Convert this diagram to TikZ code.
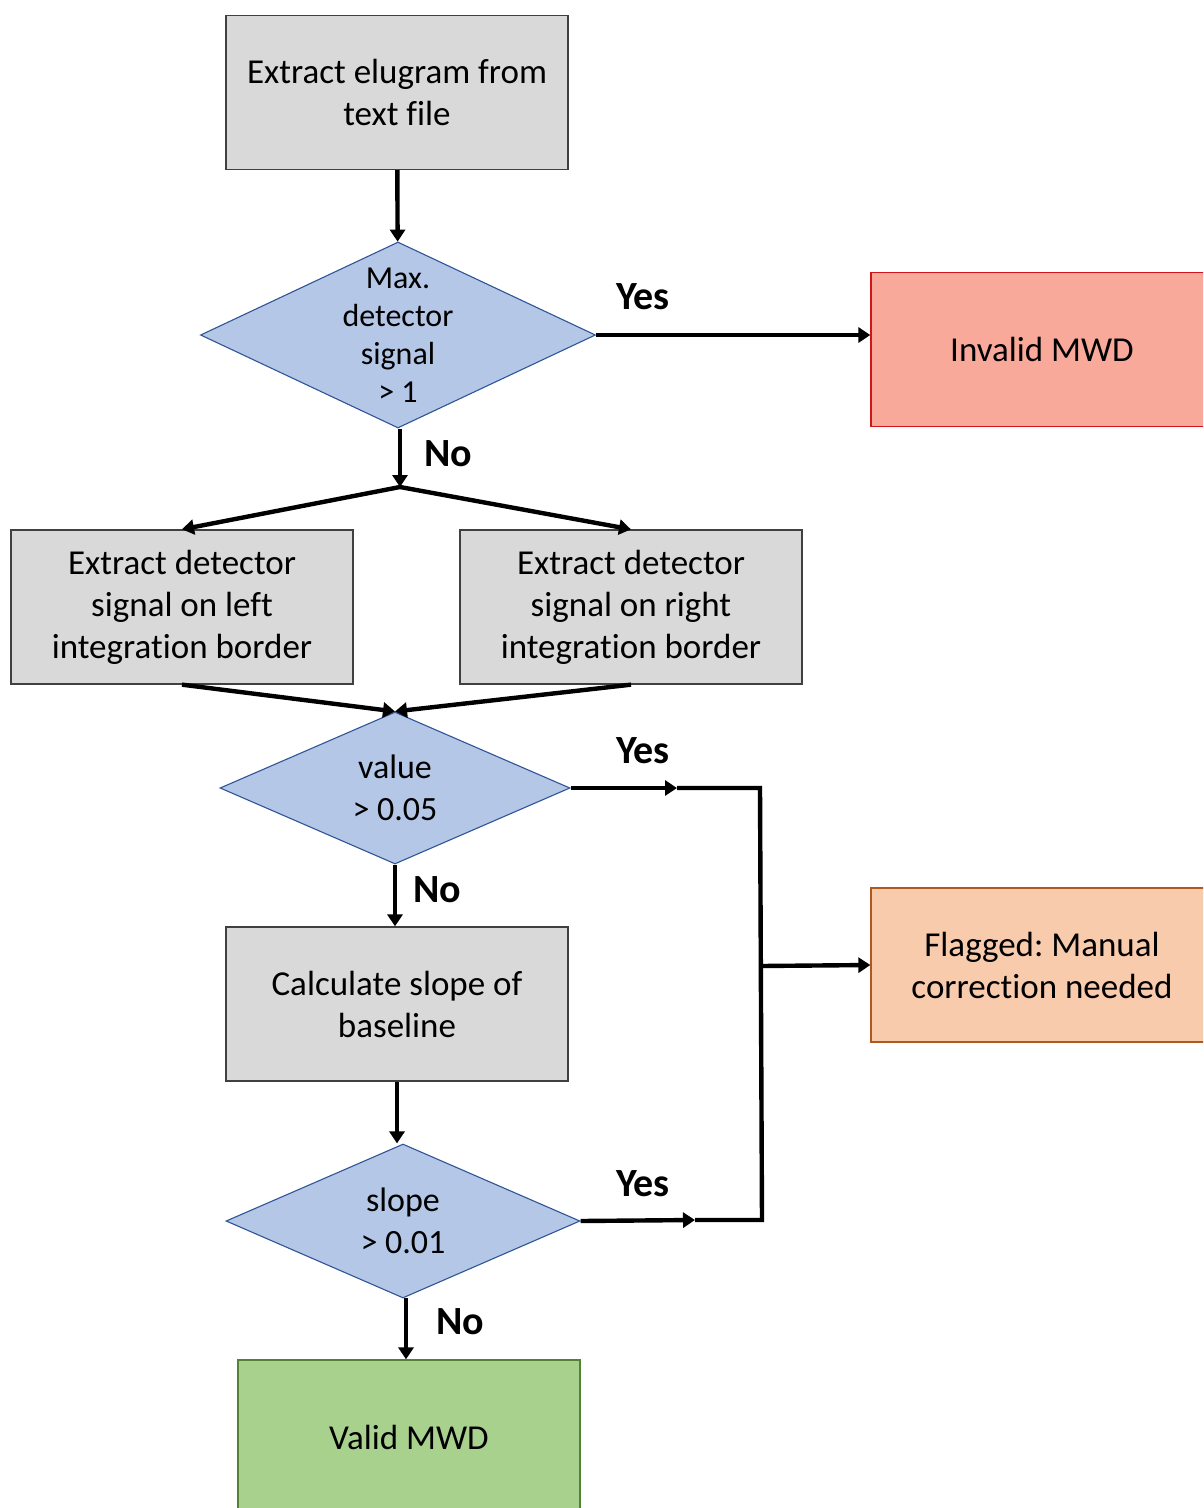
\documentclass[tikz,border=0pt]{standalone}
\usepackage{fontspec}
\setmainfont{Carlito}[Ligatures=NoCommon]
\usetikzlibrary{shapes.geometric,arrows.meta}
\frenchspacing
\definecolor{procfill}{HTML}{D9D9D9}
\definecolor{procline}{HTML}{404040}
\definecolor{decfill}{HTML}{B4C7E7}
\definecolor{decline}{HTML}{2F5597}
\definecolor{badfill}{HTML}{F8A99A}
\definecolor{badline}{HTML}{D0161B}
\definecolor{flagfill}{HTML}{F8CBAD}
\definecolor{flagline}{HTML}{B0591F}
\definecolor{okfill}{HTML}{A9D18E}
\definecolor{okline}{HTML}{538135}
\tikzset{
  process/.style={rectangle, draw=procline, fill=procfill, line width=1.3pt,
    minimum width=342pt, minimum height=154pt, inner sep=0pt, align=center,
    font=\fontsize{35}{42}\selectfont},
  outcome/.style={process},
  decision/.style={diamond, draw=decline, fill=decfill, line width=1.1pt,
    inner sep=0pt, aspect=2},
  dtext/.style={align=center, inner sep=0pt},
  arr/.style={line width=4.4pt, -{Triangle[width=15pt,length=12pt]}},
  bus/.style={line width=4.4pt},
  answer/.style={font=\fontsize{40}{46}\selectfont\bfseries, inner sep=0pt}
}
\begin{document}
\begin{tikzpicture}[x=1pt, y=-1pt]
  \useasboundingbox (0,0) rectangle (1203,1508);
  \fill[white] (0,0) rectangle (1203,1508);
  \clip (0,0) rectangle (1203,1508);

  % process boxes
  \node[process] (extract) at (397,92.5) {Extract elugram from\\text file};
  \node[process] (left) at (182,607) {Extract detector\\signal on left\\integration border};
  \node[process] (right) at (631,607) {Extract detector\\signal on right\\integration border};
  \node[process] (slope) at (397,1004) {Calculate slope of\\baseline};

  % outcomes (running past the page edge)
  \node[outcome, fill=badfill, draw=badline] (invalid) at (1042,349.5) {Invalid MWD};
  \node[outcome, fill=flagfill, draw=flagline] (flag) at (1042,965) {Flagged: Manual\\correction needed};
  \node[outcome, fill=okfill, draw=okline] (valid) at (409,1437) {Valid MWD};

  % decisions
  \node[decision, minimum width=395pt, minimum height=186pt] (d1) at (398,335) {};
  \node[dtext, font=\fontsize{32}{38}\selectfont] (d1t) at (d1) {Max.\\detector\\signal\\> 1};
  \node[decision, minimum width=350pt, minimum height=152pt] (d2) at (395,788) {};
  \node[dtext, font=\fontsize{34}{42}\selectfont] (d2t) at (d2) {value\\> 0.05};
  \node[decision, minimum width=354pt, minimum height=154pt] (d3) at (403,1221) {};
  \node[dtext, font=\fontsize{34}{42}\selectfont] (d3t) at (d3) {slope\\> 0.01};

  % junction points
  \coordinate (split) at (400,487);
  \coordinate (y1) at (677,788);
  \coordinate (y2) at (695,1220);
  \coordinate (b1) at (760,788);
  \coordinate (b2) at (762,1220);
  \coordinate (b3) at (761,966);
  \coordinate (nodown) at (406,1298);

  % connectors
  \draw[arr] (extract) -- (d1);
  \draw[arr] (d1.east) -- (d1.east -| invalid.west);
  \draw[arr] (d1.south -| split) -- (split);
  \draw[arr] (split) -- (left.north);
  \draw[arr] (split) -- (right.north);
  \draw[arr] (left.south) -- (d2.north);
  \draw[arr] (right.south) -- (d2.north);
  \draw[arr] (d2.east) -- (y1);
  \draw[bus, line join=miter] (y1) -- (b1) -- (b2) -- (y2);
  \draw[arr] (d3.east) -- (y2);
  \draw[arr] (b3) -- (flag.west);
  \draw[arr] (d2.south) -- (d2.south |- slope.north);
  \draw[arr] (slope.south) -- (slope.south |- d3.north);
  \draw[arr] (nodown) -- (nodown |- valid.north);

  % answer labels
  \node[answer] (yes1) at (643,297) {Yes};
  \node[answer] (no1) at (448,454) {No};
  \node[answer] (yes2) at (643,751) {Yes};
  \node[answer] (no2) at (437,890) {No};
  \node[answer] (yes3) at (643,1184) {Yes};
  \node[answer] (no3) at (460,1322) {No};
\end{tikzpicture}
\end{document}
